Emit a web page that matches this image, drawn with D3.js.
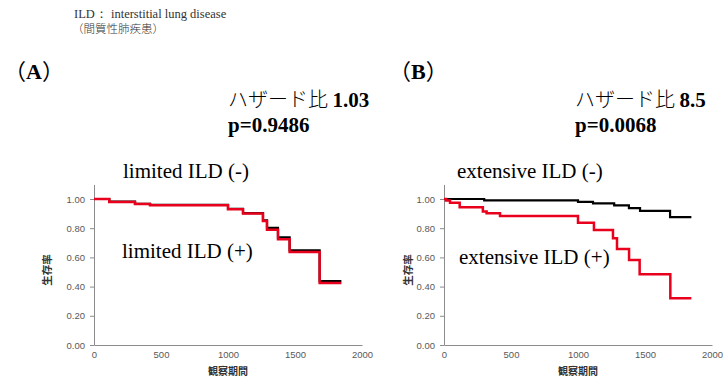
<!DOCTYPE html>
<html><head><meta charset="utf-8">
<script src="https://cdn.jsdelivr.net/npm/d3@7"></script>
<style>
html,body{margin:0;padding:0;background:#fff;}
svg{display:block;}
.tick text{font-family:"Liberation Sans",Arial,sans-serif;font-size:9.5px;fill:#595959;}
</style></head>
<body>
<script>
// ---- data ----
const yTicks = [0, 0.2, 0.4, 0.6, 0.8, 1.0];
const xTicks = [0, 500, 1000, 1500, 2000];

// Panel A: limited ILD
const aNegTime = [0, 114, 306, 418, 1000, 1112, 1261, 1291, 1373, 1460, 1684, 1846];
const aNegSurv = [1.00, 0.982, 0.967, 0.960, 0.933, 0.903, 0.853, 0.802, 0.737, 0.648, 0.437, 0.437];
const aPosTime = [0, 114, 306, 418, 1000, 1112, 1261, 1291, 1373, 1460, 1684, 1846];
const aPosSurv = [1.00, 0.980, 0.965, 0.957, 0.930, 0.900, 0.850, 0.790, 0.725, 0.637, 0.425, 0.425];

// Panel B: extensive ILD
const bNegTime = [0, 300, 1000, 1112, 1270, 1380, 1463, 1687, 1846];
const bNegSurv = [1.00, 0.990, 0.980, 0.970, 0.956, 0.937, 0.918, 0.876, 0.876];
const bPosTime = [0, 15, 45, 117, 290, 318, 418, 1000, 1119, 1261, 1291, 1381, 1460, 1689, 1846];
const bPosSurv = [1.00, 0.99, 0.975, 0.943, 0.915, 0.902, 0.884, 0.838, 0.788, 0.731, 0.658, 0.582, 0.484, 0.320, 0.320];

const W = 723, H = 381;
const svg = d3.select("body").append("svg").attr("width", W).attr("height", H);

const serif = "'Liberation Serif','Times New Roman',serif";
const cjk = "'Noto Sans CJK JP',sans-serif";

// header
svg.append("text").attr("x", 74).attr("y", 18)
  .attr("font-family", serif).attr("font-size", 12.5).attr("fill", "#333")
  .text("ILD：  interstitial lung disease");
svg.append("text").attr("x", 72).attr("y", 33)
  .attr("font-family", cjk).attr("font-size", 11.5).attr("font-weight", 300).attr("fill", "#333")
  .text("（間質性肺疾患）");

function panel(opt) {
  const x = d3.scaleLinear().domain([0, 2000]).range([opt.x0, opt.x0 + 268]);
  const y = d3.scaleLinear().domain([0, 1.1]).range([345, 184.4]);
  const g = svg.append("g");

  // panel letter
  const L = svg.append("text").attr("x", opt.lx).attr("y", 79)
    .attr("font-family", serif).attr("font-size", 22).attr("font-weight", "bold").attr("fill", "#000");
  L.append("tspan").attr("font-family", cjk).attr("font-weight", 400).text("（");
  L.append("tspan").text(opt.letter);
  L.append("tspan").attr("font-family", cjk).attr("font-weight", 400).text("）");

  // hazard text
  const h = svg.append("text").attr("x", opt.hx).attr("y", 107)
    .attr("font-family", serif).attr("font-size", 21).attr("fill", "#000");
  h.append("tspan").attr("font-family", cjk).attr("font-weight", 300).attr("font-size", 20).text("ハザード比 ");
  h.append("tspan").attr("font-weight", "bold").text(opt.hr);
  svg.append("text").attr("x", opt.hx).attr("y", 132)
    .attr("font-family", serif).attr("font-size", 21).attr("font-weight", "bold").attr("fill", "#000")
    .text(opt.p);

  // axes
  const yAxis = d3.axisLeft(y).tickValues(yTicks).tickFormat(d3.format(".2f")).tickSize(4).tickPadding(5).tickSizeOuter(0);
  const ya = g.append("g").attr("transform", `translate(${opt.x0},0)`).call(yAxis);
  const xAxis = d3.axisBottom(x).tickValues(xTicks).tickFormat(d3.format("d")).tickSize(0).tickPadding(4).tickSizeOuter(0);
  const xa = g.append("g").attr("transform", `translate(0,345)`).call(xAxis);
  [ya, xa].forEach(a => {
    a.selectAll("path,line").attr("stroke", "#8c8c8c").attr("stroke-width", 1);
    a.selectAll("text").attr("fill", "#595959");
  });
  xa.selectAll("text").attr("dy", "0.9em");

  // axis titles
  svg.append("text").attr("x", opt.x0 + 134).attr("y", 375).attr("text-anchor", "middle")
    .attr("font-family", cjk).attr("font-size", 10).attr("font-weight", "bold").attr("fill", "#333")
    .text("観察期間");
  svg.append("text").attr("transform", `translate(${opt.x0 - opt.yl},${270}) rotate(-90)`)
    .attr("text-anchor", "middle")
    .attr("font-family", cjk).attr("font-size", 10.5).attr("font-weight", "bold").attr("fill", "#333")
    .text("生存率");

  const line = d3.line().curve(d3.curveStepAfter).x(d => x(d[0])).y(d => y(d[1]));
  g.append("path").datum(d3.zip(opt.negT, opt.negS)).attr("d", line)
    .attr("fill", "none").attr("stroke", "#000").attr("stroke-width", 2.2);
  g.append("path").datum(d3.zip(opt.posT, opt.posS)).attr("d", line)
    .attr("fill", "none").attr("stroke", "#e8001c").attr("stroke-width", 2.5);

  // group labels
  svg.append("text").attr("x", opt.negLx).attr("y", 178)
    .attr("font-family", serif).attr("font-size", 21).attr("fill", "#000").text(opt.negLabel);
  svg.append("text").attr("x", opt.posLx).attr("y", opt.posLy)
    .attr("font-family", serif).attr("font-size", 21).attr("fill", "#000").text(opt.posLabel);
}

panel({x0: 94, yl: 43, letter: "A", lx: 4, hx: 228, hr: "1.03", p: "p=0.9486",
  negT: aNegTime, negS: aNegSurv, posT: aPosTime, posS: aPosSurv,
  negLabel: "limited ILD (-)", negLx: 123, posLabel: "limited ILD (+)", posLx: 122, posLy: 258});
panel({x0: 444, yl: 32, letter: "B", lx: 389, hx: 575, hr: "8.5", p: "p=0.0068",
  negT: bNegTime, negS: bNegSurv, posT: bPosTime, posS: bPosSurv,
  negLabel: "extensive ILD (-)", negLx: 457, posLabel: "extensive ILD (+)", posLx: 459, posLy: 264});
</script>
</body></html>
